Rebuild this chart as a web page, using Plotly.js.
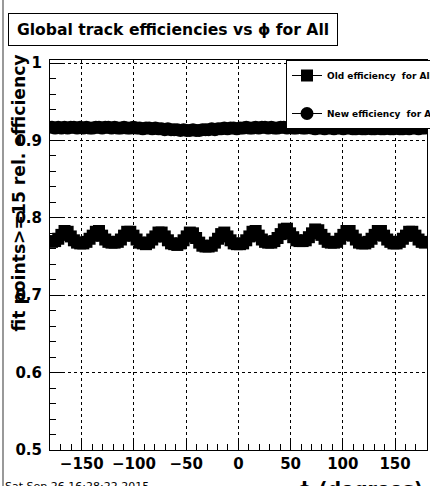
<!DOCTYPE html>
<html>
<head>
<meta charset="utf-8">
<script src="https://cdn.plot.ly/plotly-3.0.1.min.js"></script>
<style>html,body{margin:0;padding:0;background:#fff;}#chart{width:430px;height:486px;}</style>
</head>
<body>
<div id="chart"></div>
<script>
const phi = [-178.5,-175.5,-172.5,-169.5,-166.5,-163.5,-160.5,-157.5,-154.5,-151.5,
-148.5,-145.5,-142.5,-139.5,-136.5,-133.5,-130.5,-127.5,-124.5,-121.5,
-118.5,-115.5,-112.5,-109.5,-106.5,-103.5,-100.5,-97.5,-94.5,-91.5,
-88.5,-85.5,-82.5,-79.5,-76.5,-73.5,-70.5,-67.5,-64.5,-61.5,
-58.5,-55.5,-52.5,-49.5,-46.5,-43.5,-40.5,-37.5,-34.5,-31.5,
-28.5,-25.5,-22.5,-19.5,-16.5,-13.5,-10.5,-7.5,-4.5,-1.5,
1.5,4.5,7.5,10.5,13.5,16.5,19.5,22.5,25.5,28.5,
31.5,34.5,37.5,40.5,43.5,46.5,49.5,52.5,55.5,58.5,
61.5,64.5,67.5,70.5,73.5,76.5,79.5,82.5,85.5,88.5,
91.5,94.5,97.5,100.5,103.5,106.5,109.5,112.5,115.5,118.5,
121.5,124.5,127.5,130.5,133.5,136.5,139.5,142.5,145.5,148.5,
151.5,154.5,157.5,160.5,163.5,166.5,169.5,172.5,175.5,178.5];

const oldEff = [0.769,0.770,0.773,0.778,0.783,
0.782,0.776,0.771,0.768,0.767,0.767,0.769,0.773,0.777,0.782,
0.783,0.777,0.772,0.769,0.768,0.768,0.769,0.772,0.777,0.782,
0.782,0.777,0.772,0.768,0.767,0.766,0.768,0.772,0.776,0.781,
0.781,0.776,0.771,0.767,0.766,0.765,0.767,0.771,0.776,0.781,
0.780,0.774,0.768,0.764,0.763,0.763,0.764,0.768,0.773,0.779,
0.781,0.776,0.771,0.767,0.766,0.766,0.767,0.771,0.776,0.782,
0.783,0.777,0.772,0.769,0.768,0.768,0.770,0.774,0.779,0.785,
0.786,0.780,0.775,0.771,0.770,0.770,0.771,0.775,0.780,0.785,
0.784,0.778,0.773,0.769,0.768,0.768,0.769,0.773,0.778,0.783,
0.783,0.777,0.772,0.768,0.767,0.767,0.769,0.773,0.778,0.783,
0.783,0.777,0.772,0.769,0.767,0.767,0.769,0.773,0.777,0.782,
0.782,0.777,0.772,0.769,0.768];

const newEff = [0.917,0.916,0.917,0.916,0.917,0.916,0.917,0.917,0.916,0.917,
0.916,0.917,0.916,0.916,0.917,0.917,0.916,0.917,0.917,0.916,
0.917,0.916,0.916,0.917,0.916,0.916,0.917,0.916,0.916,0.915,
0.916,0.916,0.915,0.916,0.915,0.915,0.914,0.915,0.914,0.914,
0.914,0.913,0.914,0.913,0.913,0.914,0.913,0.913,0.914,0.914,
0.914,0.915,0.914,0.915,0.915,0.916,0.915,0.916,0.916,0.915,
0.916,0.916,0.917,0.916,0.916,0.917,0.916,0.917,0.917,0.916,
0.917,0.916,0.916,0.917,0.917,0.916,0.917,0.916,0.916,0.917,
0.916,0.916,0.917,0.916,0.915,0.916,0.916,0.915,0.916,0.916,
0.915,0.916,0.916,0.915,0.916,0.916,0.915,0.915,0.916,0.915,
0.915,0.916,0.915,0.915,0.916,0.915,0.915,0.916,0.915,0.915,
0.916,0.915,0.915,0.916,0.915,0.916,0.916,0.915,0.916,0.916];

const seriesNames = ['Old efficiency  for All', 'New efficiency  for All'];
const titleText = 'Global track efficiencies vs \u03D5 for All';
const yTitleText = 'fit points>=15 rel. efficiency';
const xTitleText = '\u03D5 (degrees)';
const dateText = 'Sat Sep 26 16:28:22 2015';

const W = 430, H = 486, L = 50, R = 3, T = 60, B = 36;
const pw = W - L - R, ph = H - T - B;
const px = x => (x - L) / pw;
const py = y => (H - B - y) / ph;

const bold = {family: 'DejaVu Sans', color: '#000', weight: 'bold'};

const traces = [
  {x: phi, y: oldEff, name: seriesNames[0], type: 'scatter', mode: 'lines+markers',
   legendgroup: 'a',
   line: {color: '#000', width: 1}, marker: {symbol: 'square', size: 12, color: '#000'}},
  {x: phi, y: newEff, name: seriesNames[1], type: 'scatter', mode: 'lines+markers',
   legendgroup: 'b',
   line: {color: '#000', width: 1}, marker: {symbol: 'circle', size: 13, color: '#000'}}
];

const layout = {
  width: W, height: H,
  margin: {l: L, r: R, t: T, b: B, pad: 0, autoexpand: false},
  paper_bgcolor: '#fff', plot_bgcolor: '#fff',
  showlegend: true,
  legend: {x: px(286), y: 1, xanchor: 'left', yanchor: 'top',
    bgcolor: '#fff', bordercolor: '#000', borderwidth: 1,
    font: Object.assign({}, bold, {size: 9}),
    tracegroupgap: 19, itemwidth: 30},
  xaxis: {range: [-180.4, 180.6], dtick: 50, tick0: 0,
    ticks: 'inside', ticklen: 12, tickcolor: '#000', tickwidth: 1,
    showline: true, mirror: true, linecolor: '#000', linewidth: 1,
    showgrid: true, gridcolor: '#000', griddash: 'dot', gridwidth: 1,
    zeroline: false,
    minor: {dtick: 10, ticks: 'inside', ticklen: 6, tickcolor: '#000', showgrid: false},
    tickfont: Object.assign({}, bold, {size: 15})},
  yaxis: {range: [0.5, 1.004], dtick: 0.1, tick0: 0,
    ticks: 'inside', ticklen: 12, tickcolor: '#000', tickwidth: 1,
    showline: true, mirror: true, linecolor: '#000', linewidth: 1,
    showgrid: true, gridcolor: '#000', griddash: 'dot', gridwidth: 1,
    zeroline: false, ticklabelstandoff: 4,
    minor: {dtick: 0.02, ticks: 'inside', ticklen: 6, tickcolor: '#000', showgrid: false},
    tickfont: Object.assign({}, bold, {size: 15})},
  shapes: [
    {type: 'line', xref: 'paper', yref: 'paper', x0: px(3), x1: px(3), y0: py(0), y1: py(486),
     line: {color: '#999', width: 2}}
  ],
  annotations: [
    {text: titleText, xref: 'paper', yref: 'paper', x: px(8), y: py(13),
     xanchor: 'left', yanchor: 'top', showarrow: false,
     bgcolor: '#fff', bordercolor: '#000', borderwidth: 1, borderpad: 0,
     width: 328, height: 31, align: 'center',
     font: Object.assign({}, bold, {size: 15.6})},
    {text: yTitleText, xref: 'paper', yref: 'paper', x: px(18), y: py(53),
     xanchor: 'center', yanchor: 'top', textangle: -90, showarrow: false,
     font: Object.assign({}, bold, {size: 17.2})},
    {text: xTitleText, xref: 'paper', yref: 'paper', x: px(425), y: py(476),
     xanchor: 'right', yanchor: 'top', showarrow: false,
     font: Object.assign({}, bold, {size: 19})},
    {text: dateText, xref: 'paper', yref: 'paper', x: px(3), y: py(478),
     xanchor: 'left', yanchor: 'top', showarrow: false,
     font: {family: 'DejaVu Sans', size: 11, color: '#000'}}
  ]
};

Plotly.newPlot('chart', traces, layout, {staticPlot: true, displayModeBar: false});
</script>
</body>
</html>
